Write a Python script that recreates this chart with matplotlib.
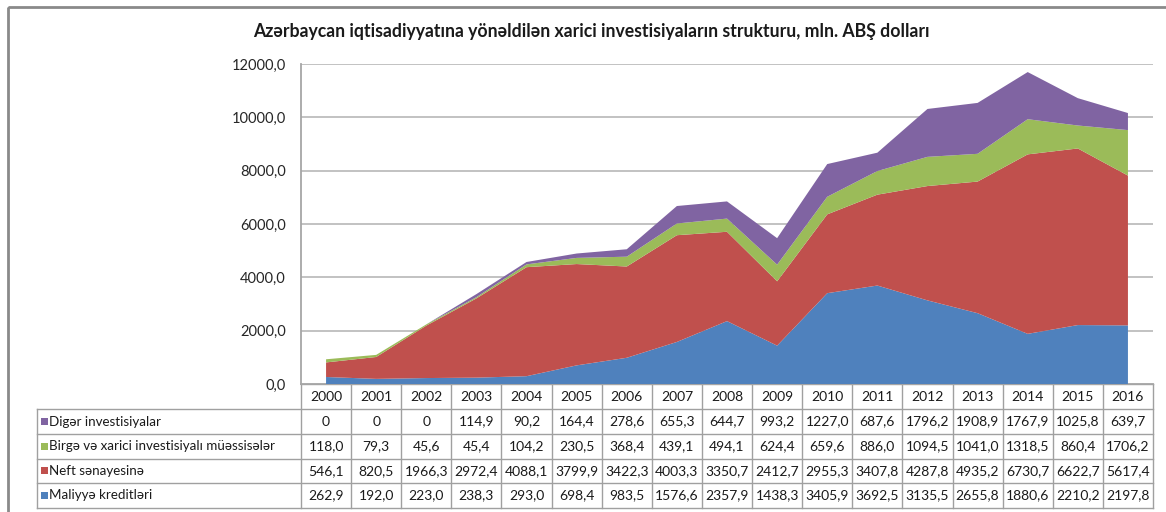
import matplotlib
matplotlib.use("Agg")
import matplotlib.pyplot as plt
from matplotlib.transforms import blended_transform_factory
from matplotlib.patches import Rectangle
from matplotlib.lines import Line2D

# ---------------- data ----------------
years = ["2000", "2001", "2002", "2003", "2004", "2005", "2006", "2007", "2008",
         "2009", "2010", "2011", "2012", "2013", "2014", "2015", "2016"]
maliyye = [262.9, 192.0, 223.0, 238.3, 293.0, 698.4, 983.5, 1576.6, 2357.9,
           1438.3, 3405.9, 3692.5, 3135.5, 2655.8, 1880.6, 2210.2, 2197.8]
neft = [546.1, 820.5, 1966.3, 2972.4, 4088.1, 3799.9, 3422.3, 4003.3, 3350.7,
        2412.7, 2955.3, 3407.8, 4287.8, 4935.2, 6730.7, 6622.7, 5617.4]
birge = [118.0, 79.3, 45.6, 45.4, 104.2, 230.5, 368.4, 439.1, 494.1,
         624.4, 659.6, 886.0, 1094.5, 1041.0, 1318.5, 860.4, 1706.2]
diger = [0, 0, 0, 114.9, 90.2, 164.4, 278.6, 655.3, 644.7,
         993.2, 1227.0, 687.6, 1796.2, 1908.9, 1767.9, 1025.8, 639.7]

name_maliyye = "Maliyyə kreditləri"
name_neft = "Neft sənayesinə"
name_birge = "Birgə və xarici investisiyalı müəssisələr"
name_diger = "Digər investisiyalar"

title = "Azərbaycan iqtisadiyyatına yönəldilən xarici investisiyaların strukturu, mln. ABŞ dolları"
yticks = [0, 2000, 4000, 6000, 8000, 10000, 12000]

col_maliyye = "#4F81BD"
col_neft = "#C0504D"
col_birge = "#9BBB59"
col_diger = "#8064A2"

FONT = ["Lato", "DejaVu Sans"]
plt.rcParams["font.family"] = FONT


def fmt(v):
    if v == 0:
        return "0"
    return f"{v:.1f}".replace(".", ",")


W, H = 1166, 512
fig = plt.figure(figsize=(W / 100, H / 100), dpi=100)
fig.patch.set_facecolor("white")

# pixel-coordinate overlay axes
pax = fig.add_axes([0, 0, 1, 1], zorder=0)
pax.set_xlim(0, W)
pax.set_ylim(H, 0)
pax.axis("off")

# outer frame
pax.add_patch(Rectangle((8, 6.5), W + 20, H + 20, fill=False,
                        edgecolor="#8a8a8a", linewidth=2.0))

# main chart axes
left, right, top, bottom = 301, 1153, 64, 384
ax = fig.add_axes([left / W, 1 - bottom / H, (right - left) / W, (bottom - top) / H], zorder=2)
ax.patch.set_alpha(0)
x = list(range(len(years)))
ax.stackplot(x, maliyye, neft, birge, diger,
             colors=[col_maliyye, col_neft, col_birge, col_diger],
             linewidth=0, zorder=3)
ax.set_xlim(-0.5, len(years) - 0.5)
ax.set_ylim(0, 12000)
ax.set_yticks(yticks)
ax.set_yticklabels([fmt(v) if v else "0,0" for v in yticks], fontsize=10.5, color="#262626")
ax.tick_params(axis="y", length=0, pad=11)
ax.set_xticks([])
for yv in yticks[1:]:
    ax.axhline(yv, color="#bdbdbd", linewidth=1.3, zorder=1)
for s in ["top", "right"]:
    ax.spines[s].set_visible(False)
ax.spines["left"].set_color("#a6a6a6")
ax.spines["left"].set_linewidth(1.3)
ax.spines["bottom"].set_color("#a6a6a6")
ax.spines["bottom"].set_linewidth(1.3)

fig.text(591 / W, 1 - 31 / H, title, ha="center", va="center",
         fontsize=12.7, fontweight="bold", color="#1a1a1a")

# ---------------- data table ----------------
tr = blended_transform_factory(ax.transData, pax.transData)
row_y = [384, 409.3, 433.9, 458.5, 483.1, 507.7]
tcol = "#a0a0a0"
lab_left = 37
n = len(years)

# horizontal lines
for i, yy in enumerate(row_y):
    x0 = lab_left if i >= 1 else left
    pax.add_line(Line2D([x0, right], [yy, yy], color=tcol, linewidth=1.0))
# vertical lines
pax.add_line(Line2D([lab_left, lab_left], [row_y[1], row_y[-1]], color=tcol, linewidth=1.0))
for i in range(n + 1):
    ax_x = i - 0.5
    ln = Line2D([ax_x, ax_x], [row_y[0], row_y[-1]], color=tcol, linewidth=1.0,
                transform=tr)
    pax.add_line(ln)

# header (years)
for i, yr in enumerate(years):
    pax.text(i, (row_y[0] + row_y[1]) / 2, yr, transform=tr, ha="center",
             va="center", fontsize=10, color="#1a1a1a")

rows = [(name_diger, col_diger, diger),
        (name_birge, col_birge, birge),
        (name_neft, col_neft, neft),
        (name_maliyye, col_maliyye, maliyye)]
for r, (name, c, vals) in enumerate(rows):
    yc = (row_y[r + 1] + row_y[r + 2]) / 2
    pax.add_patch(Rectangle((40.5, yc - 3.5), 7, 7, facecolor=c, edgecolor="none"))
    pax.text(49, yc, name, ha="left", va="center", fontsize=9.6, color="#1a1a1a")
    for i, v in enumerate(vals):
        pax.text(i, yc, fmt(v), transform=tr, ha="center", va="center",
                 fontsize=10, color="#1a1a1a")

fig.savefig("out.png", dpi=100, facecolor="white")
